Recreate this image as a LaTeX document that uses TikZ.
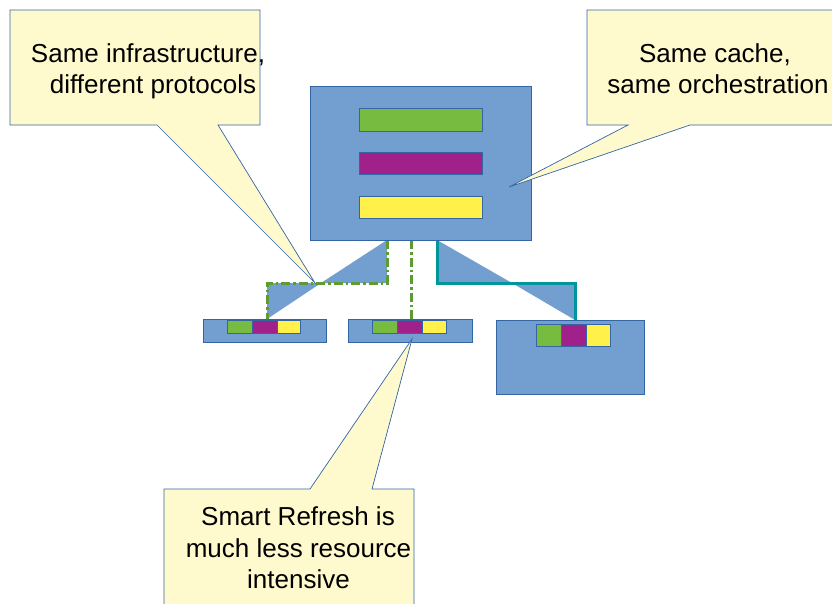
\documentclass[tikz,border=0pt]{standalone}
\usepackage{fontspec}
\setmainfont{Liberation Sans}
\definecolor{boxblue}{HTML}{729FCF}
\definecolor{edgeblue}{HTML}{3465A4}
\definecolor{notefill}{HTML}{FFFACD}
\definecolor{bargreen}{HTML}{77BC41}
\definecolor{barpurple}{HTML}{A1218A}
\definecolor{baryellow}{HTML}{FFF14A}
\definecolor{linkgreen}{HTML}{5E9B32}
\definecolor{linkteal}{HTML}{00979C}
\tikzset{
  blk/.style={draw=edgeblue, line width=0.8pt, fill=boxblue, inner sep=0pt, anchor=north west},
  bar/.style={draw=edgeblue, line width=0.8pt, inner sep=0pt, anchor=north west},
  wedge/.style={fill=boxblue, draw=none},
  note/.style={draw=edgeblue, line width=0.7pt, fill=notefill, line join=miter},
  notetext/.style={anchor=base, inner sep=0pt, font=\fontsize{26}{32}\selectfont},
  dashlink/.style={draw=linkgreen, line width=3pt, dash pattern=on 9pt off 3pt on 2.5pt off 3pt},
  solidlink/.style={draw=linkteal, line width=3pt, line join=miter},
}
\begin{document}
\begin{tikzpicture}[x=1pt, y=-1pt]
\useasboundingbox (0,0) rectangle (832,603);

% link corner points
\coordinate (a0) at (387,240);
\coordinate (a1) at (387,283);
\coordinate (a2) at (267,283);
\coordinate (a3) at (267,319);
\coordinate (am) at (321,283);
\coordinate (b0) at (411,240);
\coordinate (b1) at (411,319);
\coordinate (c0) at (437,240);
\coordinate (c1) at (437,283);
\coordinate (c2) at (575,283);
\coordinate (c3) at (575,320);
\coordinate (cm) at (512,283);

% blue wedges behind the links
\path[wedge] (a0) -- (a1) -- (am) -- cycle;
\path[wedge] (am) -- (a2) -- (a3) -- cycle;
\path[wedge] (c0) -- (c1) -- (cm) -- cycle;
\path[wedge] (cm) -- (c2) -- (c3) -- cycle;

% links
\draw[dashlink] (a0) -- (a1) -- (a2) -- (a3);
\draw[dashlink] (b0) -- (b1);
\draw[solidlink] (c0) -- (c1) -- (c2) -- (c3);

% central cache
\node[blk, minimum width=221pt, minimum height=154pt] (main) at (310,86) {};
\node[bar, fill=bargreen,  minimum width=123pt, minimum height=23pt] (mg) at (359,108) {};
\node[bar, fill=barpurple, minimum width=123pt, minimum height=22pt] (mp) at (359,152) {};
\node[bar, fill=baryellow, minimum width=123pt, minimum height=22pt] (my) at (359,196) {};

% small node 1
\node[blk, minimum width=123pt, minimum height=23pt] (s1) at (203,319) {};
\node[bar, fill=bargreen,  minimum width=25pt, minimum height=13pt] (s1g) at (227,320) {};
\node[bar, fill=barpurple, minimum width=25pt, minimum height=13pt] (s1p) at (252,320) {};
\node[bar, fill=baryellow, minimum width=23pt, minimum height=13pt] (s1y) at (277,320) {};

% small node 2
\node[blk, minimum width=124pt, minimum height=23pt] (s2) at (348,319) {};
\node[bar, fill=bargreen,  minimum width=25pt, minimum height=13pt] (s2g) at (372,320) {};
\node[bar, fill=barpurple, minimum width=25pt, minimum height=13pt] (s2p) at (397,320) {};
\node[bar, fill=baryellow, minimum width=24pt, minimum height=13pt] (s2y) at (422,320) {};

% larger node 3
\node[blk, minimum width=148pt, minimum height=74pt] (s3) at (496,320) {};
\node[bar, fill=bargreen,  minimum width=24.5pt, minimum height=22pt] (s3g) at (536,324) {};
\node[bar, fill=barpurple, minimum width=25.5pt, minimum height=22pt] (s3p) at (560.5,324) {};
\node[bar, fill=baryellow, minimum width=24pt, minimum height=22pt] (s3y) at (586,324) {};

% callout: infrastructure
\draw[note] (10,10) -- (260,10) -- (260,125) -- (218,125) -- (315,283)
  -- (157,125) -- (10,125) -- cycle;
\node[notetext] (n1a) at (148,62) {Same infrastructure,};
\node[notetext] (n1b) at (153,93) {different protocols};

% callout: cache
\draw[note] (587,10) -- (845,10) -- (845,125) -- (690,125) -- (509,187)
  -- (628,125) -- (587,125) -- cycle;
\node[notetext] (n2a) at (715,62) {Same cache,};
\node[notetext] (n2b) at (718,93) {same orchestration};

% callout: smart refresh
\draw[note] (164,489) -- (310,489) -- (412,339) -- (372,489) -- (414,489)
  -- (414,615) -- (164,615) -- cycle;
\node[notetext] (n3a) at (298,525) {Smart Refresh is};
\node[notetext] (n3b) at (298.5,557) {much less resource};
\node[notetext] (n3c) at (298.5,588) {intensive};
\end{tikzpicture}
\end{document}
